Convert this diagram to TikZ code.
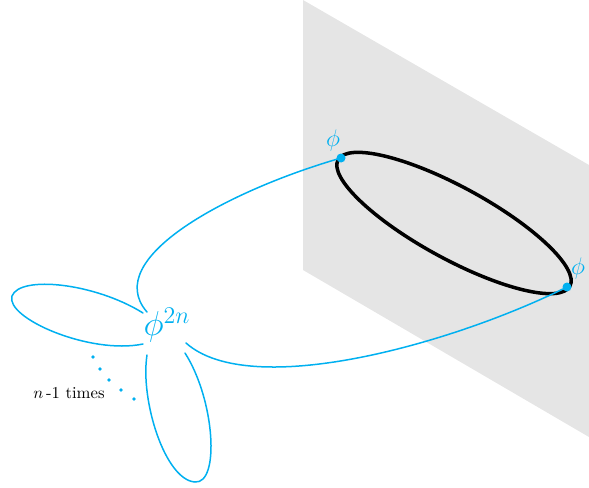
\documentclass[tikz,border=0pt]{standalone}
\definecolor{lineblue}{RGB}{0,176,240}
\definecolor{planegray}{RGB}{229,229,229}
\tikzset{
  bluecurve/.style={draw=lineblue, line width=0.9pt, line cap=round},
  blackloop/.style={draw=black, line width=2.1pt},
  bluedot/.style={fill=lineblue},
  smalldot/.style={fill=lineblue}
}
\begin{document}
\begin{tikzpicture}[x=0.6pt,y=-0.6pt]
\useasboundingbox (0,0) rectangle (589,487);
% plane
\fill[planegray] (303,0) -- (589,165) -- (589,437) -- (303,270) -- cycle;
% black loop
\draw[blackloop] (454,223) ellipse[x radius=132, y radius=36, rotate=-28.6];
% dots
\coordinate (pl) at (341,158);
\coordinate (pr) at (567,287);
\fill[bluedot] (pl) circle (4.5);
\fill[bluedot] (pr) circle (4.5);
\node[text=lineblue, font=\Large] (labl) at (333,140) {$\phi$};
\node[text=lineblue, font=\Large] (labr) at (578,268) {$\phi$};
% vertex label
\node[text=lineblue, font=\fontsize{19.5}{22}\selectfont] (v) at (167,325) {$\phi^{2n}$};
% curve ends near the vertex
\coordinate (a1) at (147,312);
\coordinate (a2) at (186,343);
\coordinate (b1) at (143,313);
\coordinate (b2) at (143,344);
\coordinate (c1) at (147,355);
\coordinate (c2) at (185,353);
% curves
\draw[bluecurve] (pl) .. controls (230,190) and (100,258) .. (a1);
\draw[bluecurve] (pr) .. controls (450,345) and (250,400) .. (a2);
\draw[bluecurve] (b1) .. controls (95,283) and (20,275) .. (12,296) .. controls (5,318) and (90,355) .. (b2);
\draw[bluecurve] (c1) .. controls (140,400) and (165,480) .. (195,482) .. controls (220,484) and (215,400) .. (c2);
% dots for n-1 times
\foreach \p in {(93,357),(100,369),(109,380),(121,390),(134,399)} \fill[smalldot] \p circle (1.8);
\node (times) at (69,393) {$n$\,-1 times};
\end{tikzpicture}
\end{document}
